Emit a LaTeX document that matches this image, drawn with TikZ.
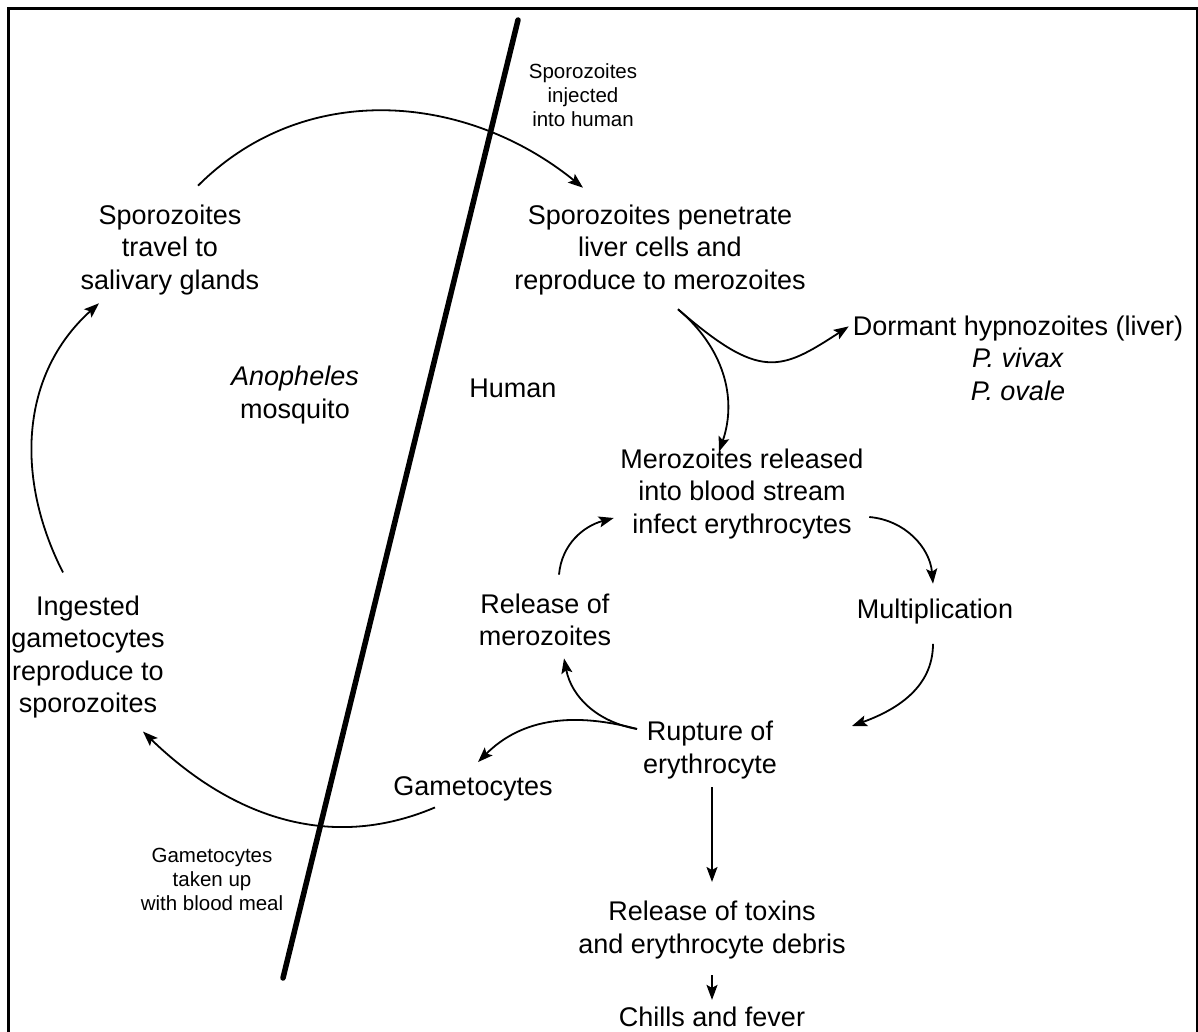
\documentclass[tikz,border=0pt]{standalone}
\usepackage{fontspec}
\setmainfont{Liberation Sans}
\usetikzlibrary{arrows.meta}

\begin{document}
\begin{tikzpicture}[x=1pt,y=1pt]
  \tikzset{Stage/.style={align=center, inner sep=0pt, font=\fontsize{27}{32.5}\selectfont}}
  \tikzset{Note/.style={align=center, inner sep=0pt, font=\fontsize{20.5}{24}\selectfont}}
  \tikzset{Cycle/.style={line width=1.8pt, -{Stealth[length=15pt,width=11pt,inset=3pt]}}}
  \tikzset{Divide/.style={line width=5.5pt, line cap=round}}

  \useasboundingbox (0,0) rectangle (1198,-1032);
  \draw[line width=3.3pt] (8.5,-1040) -- (8.5,-8.5) -- (1198,-8.5) -- (1198,-1040);
  \draw[Divide] (518,-20) -- (283,-978);

\node[Note] (inject) at (583,-95) {Sporozoites\\injected\\into human};
\node[Stage] (penetrate) at (660,-250) {Sporozoites penetrate\\liver cells and\\reproduce to merozoites};
\node[Stage] (travel) at (170,-250) {Sporozoites\\travel to\\salivary glands};
\node[Stage] (hypno) at (1018,-358) {Dormant hypnozoites (liver)\\\textit{P. vivax}\\\textit{P. ovale}};
\node[Stage] (mosquito) at (295,-395) {\textit{Anopheles}\\mosquito};
\node[Stage] (human) at (513,-388) {Human};
\node[Stage] (released) at (742,-494) {Merozoites released\\into blood stream\\infect erythrocytes};
\node[Stage] (multi) at (935,-612) {Multiplication};
\node[Stage] (relmero) at (545,-620) {Release of\\merozoites};
\node[Stage] (ingested) at (88,-657) {Ingested\\gametocytes\\reproduce to\\sporozoites};
\node[Stage] (rupture) at (710,-750) {Rupture of\\erythrocyte};
\node[Stage] (gameto) at (473,-789) {Gametocytes};
\node[Note] (takenup) at (212,-879) {Gametocytes\\taken up\\with blood meal};
\node[Stage] (toxins) at (712,-930) {Release of toxins\\and erythrocyte debris};
\node[Stage] (chills) at (712,-1017) {Chills and fever};

  \draw[Cycle] ([shift={(28,19)}]travel.north) to[out=45,in=141] ([shift={(-77,17)}]penetrate.north);
  \draw[Cycle] ([shift={(-25,23)}]ingested.north) to[out=117,in=222] ([shift={(-71,-8)}]travel.south);
  \draw[Cycle] ([shift={(-38,-6)}]gameto.south) to[out=203,in=-44] ([shift={(55,-13)}]ingested.south);
  \draw[Cycle] ([shift={(18,-14)}]penetrate.south) .. controls +(82,-71) and +(-69,-45) .. ([shift={(-4,-11)}]hypno.north west);
  \draw[Cycle] ([shift={(18,-14)}]penetrate.south) to[out=-40,in=71] ([shift={(-23,-3)}]released.north);
  \draw[Cycle] ([shift={(5.5,-23)}]released.east) to[out=-5,in=95] ([shift={(-2,15.5)}]multi.north);
  \draw[Cycle] ([shift={(-2,-19)}]multi.south) to[out=-90,in=20] ([shift={(75,24)}]rupture.east);
  \draw[Cycle] ([shift={(-6,-8)}]rupture.north west) to[out=170,in=-79] ([shift={(19,-12)}]relmero.south);
  \draw[Cycle] ([shift={(-6,-8)}]rupture.north west) to[out=165,in=45] ([shift={(5,14.5)}]gameto.north);
  \draw[Cycle] ([shift={(14,19)}]relmero.north) to[out=85,in=195] ([shift={(-6.5,-24)}]released.west);
  \draw[Cycle] ([yshift=-8]rupture.south -| toxins.north) -- ([yshift=19]toxins.north);
  \draw[Cycle] ([yshift=-16]toxins.south) -- ([yshift=7]chills.north);
\end{tikzpicture}
\end{document}
